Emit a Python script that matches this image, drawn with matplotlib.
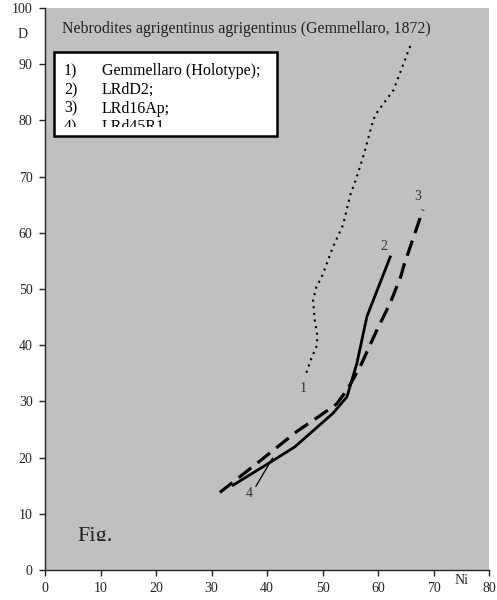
import matplotlib
matplotlib.use("Agg")
import matplotlib.pyplot as plt
from matplotlib.patches import Rectangle
from matplotlib.transforms import Bbox, TransformedBbox

plt.rcParams['font.family'] = ['Liberation Serif', 'DejaVu Serif']

# curve 1: Gemmellaro (Holotype), dotted
ni_1 = [47.1, 48.0, 48.9, 49.1, 48.6, 48.3, 48.9, 49.8, 51.9, 53.7, 55.0, 56.2, 57.5, 58.9, 59.5, 62.8, 66.1]
d_1 = [35.1, 37.7, 39.7, 41.5, 44.5, 48.0, 50.4, 52.0, 57.5, 61.4, 66.7, 70.0, 74.1, 79.2, 81.0, 85.4, 94.0]
# curve 2: LRdD2, solid
ni_2 = [33.9, 39.5, 45.0, 51.9, 54.4, 56.2, 58.0, 62.2]
d_2 = [15.1, 18.5, 21.9, 27.9, 30.8, 36.8, 45.1, 55.7]
# curve 3: LRd16Ap, dashed
ni_3 = [31.5, 38.6, 45.3, 49.9, 52.5, 54.4, 56.8, 59.8, 62.2, 64.1, 64.7, 68.1]
d_3 = [13.8, 19.3, 24.6, 27.7, 29.5, 32.0, 36.2, 42.7, 47.5, 52.2, 54.3, 64.1]
# curve 4: LRd45R1, thin
ni_4 = [38.0, 41.0]
d_4 = [14.9, 19.9]

title = 'Nebrodites agrigentinus agrigentinus (Gemmellaro, 1872)'
legend_nums = ['1)', '2)', '3)', '4)']
legend_names = ['Gemmellaro (Holotype);', 'LRdD2;', 'LRd16Ap;', 'LRd45R1']
curve_labels = ['1', '2', '3', '4']
label_ni = [46.5, 61.0, 67.1, 36.8]
label_d = [32.3, 57.6, 66.4, 13.6]

fig = plt.figure(figsize=(4.97, 6.0), dpi=100)
ax = fig.add_axes([45 / 497, 30 / 600, 444 / 497, 562 / 600])
ax.set_facecolor('#c0c0c0')
ax.set_xlim(0, 80)
ax.set_ylim(0, 100)
ax.set_xticks(range(0, 81, 10))
ax.set_yticks(range(0, 101, 10))
for s in ['top', 'right']:
    ax.spines[s].set_visible(False)
for s in ['left', 'bottom']:
    ax.spines[s].set_linewidth(1.0)
    ax.spines[s].set_color('#222222')
ax.tick_params(direction='out', length=4, width=1, color='#222222',
               labelsize=10, labelcolor='#222222', pad=5)

ax.plot(ni_1, d_1, color='black', lw=1.5, linestyle=(0, (1, 2.2)))
ax.plot(ni_2, d_2, color='black', lw=2.0, solid_joinstyle='miter')
ax.plot(ni_3, d_3, color='black', lw=2.3, linestyle=(0, (5, 2.5)))
ax.plot(ni_4, d_4, color='black', lw=0.9)

for t, x, y in zip(curve_labels, label_ni, label_d):
    ax.text(x, y, t, fontsize=10, color='#333333', ha='center', va='center')

ax.text(3.0, 95.5, title, fontsize=11.4, color='#222222', va='baseline')

# legend box, last line cut off as in the original
ax.add_patch(Rectangle((1.6, 77.3), 40.2, 14.8, facecolor='white',
                       edgecolor='black', lw=1.8, zorder=3))
clip = TransformedBbox(Bbox([[1.6, 78.8], [41.8, 92.1]]), ax.transData)
for i, (n, name) in enumerate(zip(legend_nums, legend_names)):
    y = 88.0 - i * 3.3
    for x, s in [(3.4, n), (10.2, name)]:
        t = ax.text(x, y, s, fontsize=11.5, color='black', va='baseline', zorder=4)
        t.set_clip_on(True)
        t.set_clip_box(clip)

# "Fig." cut at the baseline
fclip = TransformedBbox(Bbox([[0, 5.1], [80, 20]]), ax.transData)
t = ax.text(5.8, 5.2, 'Fig.', fontsize=16, color='#222222', va='baseline')
t.set_clip_on(True)
t.set_clip_box(fclip)

fig.text(23 / 497, 1 - 35 / 600, 'D', fontsize=10, color='#222222', ha='center', va='center')
fig.text(462 / 497, 1 - 580 / 600, 'Ni', fontsize=10, color='#222222', ha='center', va='center')

fig.savefig('out.png', dpi=100)
